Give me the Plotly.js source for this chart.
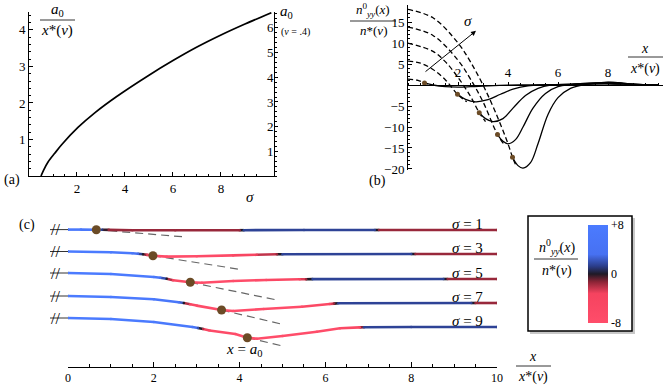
<!DOCTYPE html>
<html>
<head>
<meta charset="utf-8">
<script src="https://cdn.plot.ly/plotly-3.0.1.min.js"></script>
<style>
  html, body { margin: 0; padding: 0; background: #fff; }
  #plot { width: 664px; height: 386px; }
</style>
</head>
<body>
<div id="plot"></div>
<script>
var FONT = "'Liberation Serif', serif";
var W = 664, H = 386;

// ---- panel (a): a0/x*(nu) against sigma
var sigmaA = [0.5, 0.6, 0.8, 1.07, 1.35, 2.04, 2.74, 3.64, 5, 6, 7, 8, 9, 10.1];
var a0Ratio = [0, 0.15, 0.39, 0.62, 0.85, 1.33, 1.73, 2.17, 2.76, 3.16, 3.53, 3.86, 4.16, 4.47];
var xStar = 1.48; // x*(nu = .4), scale of right axis

// ---- panel (b): n_yy profiles, one per sigma
var sigmas = [1, 3, 5, 7, 9];
var a0 = [0.66, 1.98, 2.85, 3.58, 4.18];
var nyyAtA0 = [0.5, -2.2, -6.6, -11.8, -17.2];

var dashX = [
  [0, 0.4, 0.66, 0.9],
  [0, 0.5, 1, 1.5, 1.98, 2.35],
  [0, 1, 1.5, 2, 2.5, 2.85, 3.1],
  [0, 1, 2, 2.5, 3, 3.58, 3.85],
  [0, 1, 2, 2.5, 3, 3.5, 4, 4.18, 4.35]
];
var dashY = [
  [1.4, 1.1, 0.5, 0],
  [5.7, 5.2, 3.7, 1.2, -2.2, -4.0],
  [10, 8, 5.5, 1.8, -2.7, -6.6, -8.7],
  [13.8, 11.8, 5.9, 1.4, -4, -11.8, -14.2],
  [18, 16, 10, 5.5, 0, -6.5, -14, -17.2, -19.6]
];
var solidX = [
  [0.66, 1.0, 1.5, 2.0, 2.5, 3.0, 4.0, 5, 6, 7, 8, 9, 10],
  [1.98, 2.3, 2.7, 3.2, 3.7, 4.2, 4.8, 5.5, 6.5, 7.5, 8.2, 9, 10],
  [2.85, 3.1, 3.4, 3.8, 4.2, 4.7, 5.2, 5.7, 6.5, 7.5, 8.2, 9, 10],
  [3.58, 3.8, 4.0, 4.3, 4.6, 5.0, 5.5, 6.0, 6.5, 7.5, 8.2, 9, 10],
  [4.18, 4.4, 4.6, 4.9, 5.2, 5.6, 6.0, 6.5, 7.0, 7.5, 8.0, 8.5, 9, 10]
];
var solidY = [
  [0.5, 0, -0.4, -0.5, -0.4, -0.25, -0.05, 0.05, 0.1, 0.2, 0.3, 0.1, 0],
  [-2.2, -3.4, -4.0, -3.5, -2.2, -1.0, -0.2, 0, 0.1, 0.3, 0.3, 0.1, 0],
  [-6.6, -8.0, -8.7, -8.0, -5.5, -2.5, -0.8, 0, 0.2, 0.5, 0.5, 0.2, 0],
  [-11.8, -13.4, -14, -13, -10, -5.5, -2, -0.4, 0.1, 0.5, 0.6, 0.2, 0],
  [-17.2, -19.2, -19.8, -18.5, -14, -7, -3, -0.8, 0, 0.4, 0.7, 0.5, 0.2, 0]
];

// ---- panel (c): sheet profiles (height) coloured by n_yy
var profX = [
  [0, 0.3, 0.66, 0.8, 0.95, 1.5, 2.5, 4.0, 4.1, 5.5, 7.15, 7.25, 10],
  [0, 1, 1.5, 1.63, 1.75, 1.85, 1.98, 2.3, 3, 3.85, 4.4, 4.87, 5.0, 8.0, 8.1, 10],
  [0, 1, 2, 2.15, 2.3, 2.45, 2.85, 3.12, 3.85, 4.62, 5.4, 5.55, 5.7, 8.75, 8.85, 10],
  [0, 1, 2, 2.58, 2.7, 2.85, 3.0, 3.58, 3.85, 4.56, 5.45, 6.1, 6.2, 6.3, 9.4, 9.5, 10],
  [0, 1, 2, 2.9, 3.03, 3.15, 3.3, 3.9, 4.18, 4.4, 5.0, 5.8, 6.34, 6.8, 6.9, 8, 10]
];
var profH = [
  [137.4, 137.4, 137.3, 137.2, 137.1, 136.8, 136.7, 136.8, 136.8, 137, 137, 137, 137],
  [115.5, 114.8, 113.7, 113.3, 112.8, 112.1, 111.3, 110.4, 110.7, 111.6, 112.2, 112.7, 112.8, 113, 113, 113],
  [94, 93, 90, 89.2, 88.2, 86.8, 84.7, 84.3, 86, 87, 87.7, 87.8, 87.9, 88, 88, 88],
  [71, 70, 67.7, 64.7, 64, 62.7, 61.4, 57, 56, 58, 60.3, 63, 63.4, 63.7, 64, 64, 64],
  [49, 48, 45, 40, 39, 38, 36.5, 33, 29.3, 28.3, 31, 35.3, 38.7, 39.6, 39.7, 40, 40]
];
var profC = [
  [7, 7, 6, 1, -1.5, -1.5, -1.5, -1.5, 1.5, 1.5, 1.5, -1.5, -1.5],
  [8, 8, 6, 3, 0, -3, -6, -8, -8, -6, -3, -1.5, 1.5, 1.5, -1.5, -1.5],
  [8, 8, 7, 4, 0, -4, -8, -8, -8, -7, -4, -1.5, 1.5, 1.5, -1.5, -1.5],
  [8, 8, 7, 5, 0, -4, -7, -8, -8, -8, -8, -4, -1.5, 1.5, 1.5, -1.5, -1.5],
  [8, 8, 8, 6, 2, -2, -6, -8, -8, -8, -8, -8, -7, -4, 1.5, 1.5, 1.5]
];
var dotH = [137.3, 111.3, 84.7, 57, 29.3];
var tangentEndX = [2.66, 4.0, 4.87, 5.0, 5.0];
var tangentEndH = [130.3, 97.7, 67, 42.7, 21];

var cscale = [[0, '#ff4d6a'], [0.3, '#f5435f'], [0.42, '#8c2436'], [0.5, '#1f1a26'],
              [0.58, '#2b3d8a'], [0.7, '#4771f2'], [1, '#4b7bff']];
var DOT = '#6b4b26';

function hex(c) { return [parseInt(c.substr(1,2),16), parseInt(c.substr(3,2),16), parseInt(c.substr(5,2),16)]; }
function colorAt(v) {
  var t = Math.max(0, Math.min(1, (v + 8) / 16));
  for (var i = 1; i < cscale.length; i++) {
    if (t <= cscale[i][0]) {
      var a = cscale[i-1], b = cscale[i];
      var f = (t - a[0]) / (b[0] - a[0]);
      var ca = hex(a[1]), cb = hex(b[1]);
      return 'rgb(' + ca.map(function(k, j) { return Math.round(k + (cb[j] - k) * f); }).join(',') + ')';
    }
  }
  return cscale[cscale.length-1][1];
}

function px(x) { return x / W; }
function py(y) { return 1 - y / H; }

var traces = [];
var annotations = [];
var shapes = [];

// panel (a)
traces.push({x: sigmaA, y: a0Ratio, mode: 'lines', line: {color: '#000', width: 1.7, shape: 'spline', smoothing: 0.8},
  xaxis: 'x', yaxis: 'y', hoverinfo: 'skip'});
traces.push({x: sigmaA, y: a0Ratio.map(function(v) { return v * xStar; }), mode: 'lines',
  line: {color: 'rgba(0,0,0,0)', width: 0}, xaxis: 'x', yaxis: 'y5', hoverinfo: 'skip'});

// panel (b)
for (var i = 0; i < sigmas.length; i++) {
  traces.push({x: dashX[i], y: dashY[i], mode: 'lines', xaxis: 'x2', yaxis: 'y2', hoverinfo: 'skip',
    line: {color: '#000', width: 1.3, dash: '5px,3px', shape: 'spline'}});
  traces.push({x: solidX[i], y: solidY[i], mode: 'lines', xaxis: 'x2', yaxis: 'y2', hoverinfo: 'skip',
    line: {color: '#000', width: 1.3, shape: 'spline'}});
}
traces.push({x: a0, y: nyyAtA0, mode: 'markers', xaxis: 'x2', yaxis: 'y2', hoverinfo: 'skip',
  marker: {color: DOT, size: 5}});

// panel (c)
for (var i = 0; i < sigmas.length; i++) {
  // break stub left of x = 0
  traces.push({x: [-0.42, 0], y: [profH[i][0], profH[i][0]], mode: 'lines', xaxis: 'x3', yaxis: 'y3',
    hoverinfo: 'skip', line: {color: '#333', width: 1}});
  annotations.push({x: -0.3, y: profH[i][0], xref: 'x3', yref: 'y3', text: '//', showarrow: false,
    font: {family: FONT, size: 16, color: '#000'}});
  // tangent
  traces.push({x: [a0[i], tangentEndX[i]], y: [dotH[i], tangentEndH[i]], mode: 'lines', xaxis: 'x5', yaxis: 'y3',
    hoverinfo: 'skip', line: {color: '#666', width: 1.2, dash: '8px,5px'}});
  // coloured profile
  for (var k = 0; k < profX[i].length - 1; k++) {
    traces.push({x: [profX[i][k], profX[i][k+1]], y: [profH[i][k], profH[i][k+1]], mode: 'lines',
      xaxis: 'x5', yaxis: 'y3', hoverinfo: 'skip',
      line: {color: colorAt((profC[i][k] + profC[i][k+1]) / 2), width: 2.6}});
  }
  annotations.push({x: 9.73, y: profH[i][profH[i].length-1] + 6.5, xref: 'x5', yref: 'y3', xanchor: 'right',
    text: '<i>σ</i> = ' + sigmas[i], showarrow: false, font: {family: FONT, size: 15, color: '#000'}});
}
var allX = [], allH = [], allC = [];
for (var i = 0; i < sigmas.length; i++) {
  allX = allX.concat(profX[i]); allH = allH.concat(profH[i]); allC = allC.concat(profC[i]);
}
traces.push({x: allX, y: allH, mode: 'markers', xaxis: 'x5', yaxis: 'y3', hoverinfo: 'skip',
  marker: {size: 2.6, color: allC, colorscale: cscale, cmin: -8, cmax: 8, showscale: true,
    colorbar: {x: px(588), xanchor: 'left', y: py(274), yanchor: 'middle', len: 98 / H, lenmode: 'fraction',
      thickness: 20, thicknessmode: 'pixels', xpad: 0, ypad: 0, outlinewidth: 0, ticks: '',
      tickvals: [-8, 0, 8], ticktext: ['-8', '0', '+8'], tickfont: {family: FONT, size: 12, color: '#000'}}}});
traces.push({x: a0, y: dotH, mode: 'markers', xaxis: 'x5', yaxis: 'y3', hoverinfo: 'skip',
  marker: {color: DOT, size: 9}});

// fractions drawn as two texts and a bar
function frac(cx, yNum, yLine, yDen, x0, x1, num, den, size) {
  annotations.push({xref: 'paper', yref: 'paper', x: px(cx), y: py(yNum), text: num, showarrow: false,
    xanchor: 'center', yanchor: 'middle', font: {family: FONT, size: size, color: '#000'}});
  annotations.push({xref: 'paper', yref: 'paper', x: px(cx), y: py(yDen), text: den, showarrow: false,
    xanchor: 'center', yanchor: 'middle', font: {family: FONT, size: size, color: '#000'}});
  shapes.push({type: 'line', xref: 'paper', yref: 'paper', x0: px(x0), x1: px(x1), y0: py(yLine), y1: py(yLine),
    line: {color: '#000', width: 0.8}});
}
function label(x, y, text, size, anchor) {
  annotations.push({xref: 'paper', yref: 'paper', x: px(x), y: py(y), text: text, showarrow: false,
    xanchor: anchor || 'center', yanchor: 'middle', font: {family: FONT, size: size, color: '#000'}});
}

var NSTAR = '<i>n</i><sup>0</sup><sub><i>yy</i></sub>(<i>x</i>)';
var XSTAR = '<i>x</i>*(<i>ν</i>)';
frac(57, 10, 20, 30, 40, 75, '<i>a</i><sub>0</sub>', XSTAR, 15);
label(278, 12, '<i>a</i><sub>0</sub>', 15, 'left');
label(279, 32, '(<i>ν</i> = .4)', 10, 'left');
label(2, 180, '(a)', 14, 'left');
label(250, 197, '<i>σ</i>', 15);

frac(373, 10, 21, 31, 350, 396, NSTAR, '<i>n</i>*(<i>ν</i>)', 13);
frac(645, 48, 57, 69, 628, 663, '<i>x</i>', XSTAR, 14);
label(367, 181, '(b)', 14, 'left');
annotations.push({xref: 'x2', yref: 'y2', x: 2.72, y: 12.9, axref: 'x2', ayref: 'y2', ax: 0.64, ay: 2.9,
  text: '', showarrow: true, arrowhead: 2, arrowsize: 1, arrowwidth: 1, arrowcolor: '#000', standoff: 0});
annotations.push({xref: 'x2', yref: 'y2', x: 2.4, y: 15.3, text: '<i>σ</i>', showarrow: false,
  font: {family: FONT, size: 15, color: '#000'}});

label(17, 225, '(c)', 14, 'left');
frac(533, 356, 366, 377, 516, 551, '<i>x</i>', XSTAR, 14);
annotations.push({xref: 'x5', yref: 'y3', x: 4.1, y: 17, text: '<i>x</i> = <i>a</i><sub>0</sub>', showarrow: false,
  font: {family: FONT, size: 15, color: '#000'}});

// legend box
shapes.push({type: 'rect', xref: 'paper', yref: 'paper', layer: 'below', x0: px(530), x1: px(635), y0: py(334), y1: py(218),
  line: {width: 0}, fillcolor: '#c8c8c8'});
shapes.push({type: 'rect', xref: 'paper', yref: 'paper', layer: 'below', x0: px(528), x1: px(632), y0: py(331), y1: py(216),
  line: {color: '#000', width: 1.5}, fillcolor: '#fff'});
frac(557, 247, 259, 271, 534, 578, NSTAR, '<i>n</i>*(<i>ν</i>)', 14);

var tickFont = {family: FONT, size: 13, color: '#000'};
function ax(extra) {
  var base = {showgrid: false, zeroline: false, showline: true, linecolor: '#000', linewidth: 1,
    ticks: 'inside', ticklen: 4, tickcolor: '#000', tickfont: tickFont, fixedrange: true};
  for (var k in extra) base[k] = extra[k];
  return base;
}

var layout = {
  width: W, height: H,
  font: {family: FONT, color: '#000'},
  margin: {l: 0, r: 0, t: 0, b: 0},
  paper_bgcolor: '#fff', plot_bgcolor: 'rgba(0,0,0,0)',
  showlegend: false,
  xaxis: ax({domain: [px(29), px(274)], range: [0, 10.21], anchor: 'y', tickvals: [2, 4, 6, 8],
    minor: {tickmode: 'linear', tick0: 0, dtick: 0.5, ticklen: 2, ticks: 'inside', tickcolor: '#000'}}),
  yaxis: ax({domain: [py(176), py(12)], range: [0, 4.49], anchor: 'x', tickvals: [1, 2, 3, 4],
    minor: {tickmode: 'linear', tick0: 0, dtick: 0.2, ticklen: 2, ticks: 'inside', tickcolor: '#000'}}),
  yaxis5: ax({overlaying: 'y', side: 'right', anchor: 'x', range: [0, 4.49 * xStar], tickvals: [1, 2, 3, 4, 5, 6],
    ticklabelposition: 'inside', ticks: 'outside', ticklen: 3,
    minor: {tickmode: 'linear', tick0: 0, dtick: 0.2, ticklen: 2, ticks: 'outside', tickcolor: '#000'}}),
  xaxis2: ax({domain: [px(408), px(663)], range: [0, 10.2], anchor: 'free', position: py(85), side: 'top',
    ticks: 'outside', ticklen: 3, tickvals: [2, 4, 6, 8],
    minor: {tickmode: 'linear', tick0: 0, dtick: 0.5, ticklen: 2, ticks: 'outside', tickcolor: '#000'}}),
  yaxis2: ax({domain: [py(170), py(5)], range: [-20.24, 19.05], anchor: 'x2',
    tickvals: [-20, -15, -10, -5, 5, 10, 15],
    minor: {tickmode: 'linear', tick0: 0, dtick: 1, ticklen: 2, ticks: 'inside', tickcolor: '#000'}}),
  xaxis3: {domain: [px(40), px(500)], range: [-0.653, 10.07], anchor: 'y3', visible: false, fixedrange: true},
  yaxis3: {domain: [py(367), py(215)], range: [0, 152], anchor: 'x3', visible: false, fixedrange: true},
  xaxis5: ax({domain: [px(68), px(497)], range: [0, 10], anchor: 'y3', tickvals: [0, 2, 4, 6, 8, 10],
    ticklen: 5, tickfont: {family: FONT, size: 12, color: '#000'},
    minor: {tickmode: 'linear', tick0: 0, dtick: 0.5, ticklen: 3, ticks: 'inside', tickcolor: '#000'}}),
  annotations: annotations,
  shapes: shapes
};

Plotly.newPlot('plot', traces, layout, {staticPlot: true});
</script>
</body>
</html>
